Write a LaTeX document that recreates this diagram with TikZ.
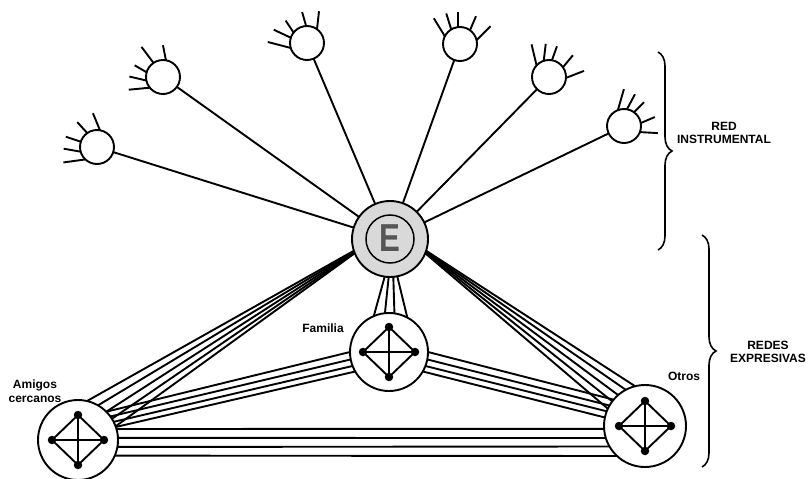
\documentclass[tikz,border=0pt]{standalone}
\usepackage{fontspec}
\usepackage{graphicx}
\setmainfont{Liberation Sans}
\usetikzlibrary{decorations.pathreplacing}
\definecolor{egray}{HTML}{D9D9D9}
\definecolor{etext}{HTML}{555555}
\newcommand\dnet[3]{%
  \node[dot] (#1t) at (#2,#3+25) {};
  \node[dot] (#1b) at (#2,#3-25) {};
  \node[dot] (#1l) at (#2-26,#3) {};
  \node[dot] (#1r) at (#2+26,#3) {};
  \draw[ln] (#1t.center) -- (#1r.center) -- (#1b.center) -- (#1l.center) -- cycle;
  \draw[ln] (#1t) -- (#1b);
  \draw[ln] (#1l) -- (#1r);
}
\begin{document}
\begin{tikzpicture}[x=1pt,y=1pt,
  ln/.style={line width=1.9pt},
  small/.style={circle,draw,line width=1.9pt,minimum size=34pt,inner sep=0pt,outer sep=0pt,fill=white},
  big/.style={circle,draw,line width=1.9pt,inner sep=0pt,outer sep=0pt,fill=white},
  dot/.style={circle,fill=black,inner sep=0pt,minimum size=8.5pt},
  lbl/.style={font=\bfseries\fontsize{12}{13.5}\selectfont,align=center,inner sep=0pt},
  brc/.style={line width=1.6pt,decorate,decoration={brace,amplitude=14pt}}
]
\useasboundingbox (0,0) rectangle (809,-479);

% central node
\node[circle,draw,line width=1.9pt,fill=egray,minimum size=76pt,inner sep=0pt,outer sep=0pt] (E) at (390,-239) {};
\node[circle,draw,line width=1.5pt,fill=egray,minimum size=48pt,inner sep=0pt] (Ein) at (E) {};
\node[text=etext,font=\bfseries\fontsize{39}{39}\selectfont,inner sep=0pt] (Elab) at (390,-238) {\scalebox{0.8}[1]{E}};

% instrumental nodes
\node[small] (n1) at (97,-147) {};
\node[small] (n2) at (163,-77) {};
\node[small] (n3) at (307,-43) {};
\node[small] (n4) at (460,-44) {};
\node[small] (n5) at (549,-77) {};
\node[small] (n6) at (624,-126) {};
\foreach \n in {n1,n2,n3,n4,n5,n6} \draw[ln] (\n) -- (E);

% spikes
\foreach \a/\v in {80/{(-7,17)},125/{(-10,11)},162/{(-15,5)},196/{(-17,3)},227/{(-22,-3)}}
  \draw[ln] (n1.\a) -- ++\v;
\foreach \a/\v in {124/{(-12,16)},80/{(-3,15)},164/{(-12,7)},192/{(-17,4)},219/{(-21,-2)}}
  \draw[ln] (n2.\a) -- ++\v;
\foreach \a/\v in {93/{(-4,14)},54/{(2,18)},142/{(-8,12)},162/{(-17,8)},197/{(-23,6)}}
  \draw[ln] (n3.\a) -- ++\v;
\foreach \a/\v in {153/{(-11,18)},121/{(-5,16)},97/{(0,15)},54/{(6,14)},13/{(14,14)}}
  \draw[ln] (n4.\a) -- ++\v;
\foreach \a/\v in {137/{(-5,21)},108/{(2,17)},80/{(5,14)},35/{(10,12)},-3/{(18,7)}}
  \draw[ln] (n5.\a) -- ++\v;
\foreach \a/\v in {111/{(6,21)},80/{(8,15)},54/{(10,10)},10/{(14,6)},-21/{(18,-1)}}
  \draw[ln] (n6.\a) -- ++\v;

% expressive nodes
\node[big,minimum size=78pt] (F) at (389,-352) {};
\node[big,minimum size=80pt] (A) at (78,-440) {};
\node[big,minimum size=82pt] (O) at (645,-426) {};

% bundles
\foreach \a/\b in {262/113,268/96,275/82,281/62} \draw[ln] (E.\a) -- (F.\b);
\foreach \a/\b in {198/77,199/60,200/45,201/32,202/20} \draw[ln] (E.\a) -- (A.\b);
\foreach \a/\b in {342/104,341/118,340/131,339/143,338/155} \draw[ln] (E.\a) -- (O.\b);
\foreach \a/\b in {180/45,191/36,201/27,210/19} \draw[ln] (F.\a) -- (A.\b);
\foreach \a/\b in {0/140,-11/150,-21/159,-30/168} \draw[ln] (F.\a) -- (O.\b);
\foreach \a/\b in {16/184.2,3/197,-10/210.8,-23.6/227} \draw[ln] (A.\a) -- (O.\b);

\dnet{F}{389}{-352}
\dnet{A}{78}{-440}
\dnet{O}{645}{-426}

% labels
\node[lbl] (lA) at (35,-391) {Amigos\\cercanos};
\node[lbl] (lF) at (323,-328) {Familia};
\node[lbl] (lO) at (684,-376) {Otros};
\node[lbl] (lRI) at (724,-133) {RED\\INSTRUMENTAL};
\node[lbl] (lRE) at (768,-352) {REDES\\EXPRESIVAS};

% braces
\coordinate (b1s) at (658,-52);
\coordinate (b1e) at (658,-250);
\coordinate (b2s) at (702,-235);
\coordinate (b2e) at (702,-467);
\draw[brc] (b1s) -- (b1e);
\draw[brc] (b2s) -- (b2e);
\end{tikzpicture}
\end{document}
